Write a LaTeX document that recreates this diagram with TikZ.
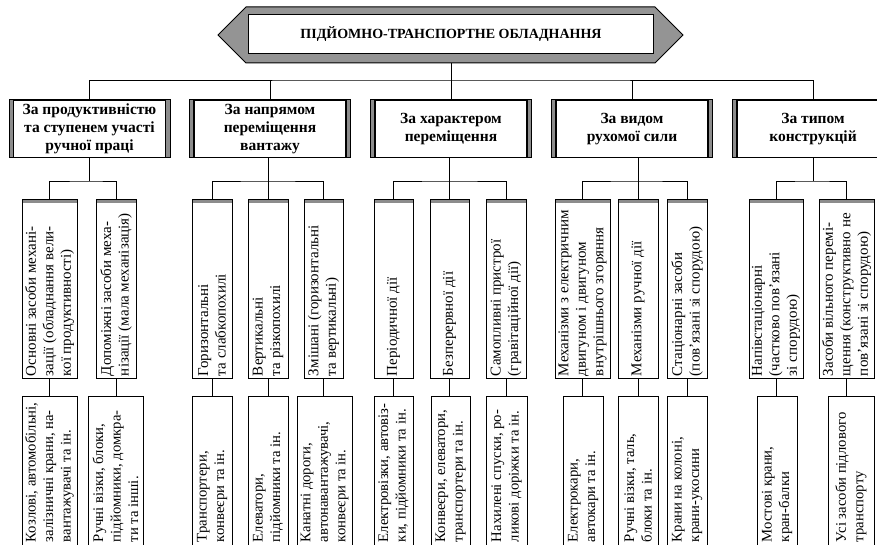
\documentclass[tikz,border=0pt]{standalone}
\usepackage{fontspec}
\setmainfont{Liberation Serif}
\definecolor{bandgray}{gray}{0.55}
\definecolor{hexgray}{gray}{0.58}
\begin{document}
\begin{tikzpicture}[x=1pt,y=-1pt,line width=0.8pt,
  catbox/.style={draw, line width=1pt, fill=bandgray, minimum width=161pt, minimum height=58pt,
    inner sep=0pt, align=center, font=\bfseries\fontsize{15.5}{18}\selectfont,
    path picture={\draw[fill=white, line width=1.4pt]
      ([xshift=4.5pt]path picture bounding box.south west) rectangle
      ([xshift=-4.5pt]path picture bounding box.north east);}},
  midbox/.style={draw, line width=0.8pt, inner sep=0pt, minimum height=179pt,
    path picture={\fill[bandgray] (path picture bounding box.north west) rectangle
      ([yshift=-4pt]path picture bounding box.north east);}},
  lowbox/.style={draw, line width=1pt, inner sep=0pt, minimum height=154pt},
  vtext/.style={rotate=90, anchor=west, align=left, inner sep=0pt,
    font=\fontsize{15}{17.5}\selectfont},
  ltext/.style={rotate=90, anchor=west, align=left, inner sep=0pt,
    font=\fontsize{14.7}{17.5}\selectfont}
]
\useasboundingbox (0,0) rectangle (877,545);
\clip (0,0) rectangle (877,545);
\fill[white] (0,0) rectangle (877,545);

% banner
\draw[line width=1pt, fill=hexgray] (218,35) -- (246,7) -- (655,7) -- (683,35) -- (655,63) -- (246,63) -- cycle;
\node[draw, line width=1.5pt, fill=white, minimum width=405pt, minimum height=39pt, inner sep=0pt,
  font=\bfseries\fontsize{14}{16}\selectfont] (top) at (451,34) {ПІДЙОМНО-ТРАНСПОРТНЕ ОБЛАДНАННЯ};
\coordinate (hexb) at (451,63);
\coordinate (bus) at (451,80);

% categories
\node[catbox] (c1) at (89.5,129) {За продуктивністю\\та ступенем участі\\ручної праці};
\node[catbox] (c2) at (270,129) {За напрямом\\переміщення\\вантажу};
\node[catbox] (c3) at (451,129) {За характером\\переміщення};
\node[catbox] (c4) at (632,129) {За видом\\рухомої сили};
\node[catbox] (c5) at (813,129) {За типом\\конструкцій};

\draw (hexb) -- (bus);
\draw (c1.north) |- (bus) -| (c5.north);
\draw (c2.north) -- (c2.north |- bus);
\draw (c3.north) -- (c3.north |- bus);
\draw (c4.north) -- (c4.north |- bus);

% middle boxes
\node[midbox, minimum width=55pt] (m11) at (49.5,288.5) {};
\node[midbox, minimum width=40pt] (m12) at (116,288.5) {};
\node[midbox, minimum width=40pt] (m21) at (212,288.5) {};
\node[midbox, minimum width=40pt] (m22) at (268,288.5) {};
\node[midbox, minimum width=39pt] (m23) at (323.5,288.5) {};
\node[midbox, minimum width=39pt] (m31) at (393.5,288.5) {};
\node[midbox, minimum width=39pt] (m32) at (449.5,288.5) {};
\node[midbox, minimum width=40pt] (m33) at (506,288.5) {};
\node[midbox, minimum width=55pt] (m41) at (582.5,288.5) {};
\node[midbox, minimum width=40pt] (m42) at (638,288.5) {};
\node[midbox, minimum width=40pt] (m43) at (687,288.5) {};
\node[midbox, minimum width=54pt] (m51) at (776,288.5) {};
\node[midbox, minimum width=55pt] (m52) at (846.5,288.5) {};

% lower boxes
\node[lowbox, minimum width=55pt] (l11) at (49.5,473) {};
\node[lowbox, minimum width=55pt] (l12) at (115.5,473) {};
\node[lowbox, minimum width=40pt] (l21) at (212,473) {};
\node[lowbox, minimum width=40pt] (l22) at (268,473) {};
\node[lowbox, minimum width=55pt] (l23) at (324.5,473) {};
\node[lowbox, minimum width=39pt] (l31) at (393.5,473) {};
\node[lowbox, minimum width=39pt] (l32) at (450.5,473) {};
\node[lowbox, minimum width=41pt] (l33) at (506.5,473) {};
\node[lowbox, minimum width=40pt] (l41) at (583,473) {};
\node[lowbox, minimum width=40pt] (l42) at (638,473) {};
\node[lowbox, minimum width=40pt] (l43) at (687,473) {};
\node[lowbox, minimum width=40pt] (l51) at (777,473) {};
\node[lowbox, minimum width=46pt] (l52) at (851,473) {};

% sub-buses
\coordinate (s1) at (89.5,181);
\coordinate (s2) at (268,181);
\coordinate (s3) at (449.5,181);
\coordinate (s4) at (638,181);
\coordinate (s5) at (813,181);
\draw (c1.south) -- (s1);
\draw (m11.north) |- (s1) -| (m12.north);
\draw (m21.north) |- (s2) -| (m23.north);
\draw (m22.north |- c2.south) -- (m22.north);
\draw (m31.north) |- (s3) -| (m33.north);
\draw (m32.north |- c3.south) -- (m32.north);
\draw (m41.north) |- (s4) -| (m43.north);
\draw (m42.north |- c4.south) -- (m42.north);
\draw (c5.south) -- (s5);
\draw (m51.north) |- (s5) -| (m52.north);

% middle to lower
\foreach \m/\l in {m11/l11,m12/l12,m21/l21,m22/l22,m23/l23,m31/l31,m32/l32,m33/l33,m41/l41,m42/l42,m43/l43,m51/l51,m52/l52}
  \draw (\m.south) -- (\m.south |- \l.north);

% middle texts
\node[vtext] (t11) at ([yshift=2pt]m11.south) {Основні засоби механі-\\зації (обладнання вели-\\кої продуктивності)};
\node[vtext] (t12) at ([yshift=2pt]m12.south) {Допоміжні засоби меха-\\нізації (мала механізація)};
\node[vtext] (t21) at ([yshift=2pt]m21.south) {Горизонтальні\\та слабкопохилі};
\node[vtext] (t22) at ([yshift=2pt]m22.south) {Вертикальні\\та різкопохилі};
\node[vtext] (t23) at ([yshift=2pt]m23.south) {Змішані (горизонтальні\\та вертикальні)};
\node[vtext] (t31) at ([yshift=2pt]m31.south) {Періодичної дії};
\node[vtext] (t32) at ([yshift=2pt]m32.south) {Безперервної дії};
\node[vtext] (t33) at ([yshift=2pt]m33.south) {Самопливні пристрої\\(гравітаційної дії)};
\node[vtext] (t41) at ([yshift=2pt]m41.south) {Механізми з електричним\\двигуном і двигуном\\внутрішнього згоряння};
\node[vtext] (t42) at ([yshift=2pt]m42.south) {Механізми ручної дії};
\node[vtext] (t43) at ([yshift=2pt]m43.south) {Стаціонарні засоби\\(пов’язані зі спорудою)};
\node[vtext] (t51) at ([yshift=2pt]m51.south) {Напівстаціонарні\\(частково пов’язані\\зі спорудою)};
\node[vtext] (t52) at ([yshift=2pt]m52.south) {Засоби вільного перемі-\\щення (конструктивно не\\пов’язані зі спорудою)};

% lower texts
\node[ltext] (u11) at ([yshift=8pt]l11.south) {Козлові, автомобільні,\\залізничні крани, на-\\вантажувачі та ін.};
\node[ltext] (u12) at ([yshift=8pt]l12.south) {Ручні візки, блоки,\\підйомники, домкра-\\ти та інші.};
\node[ltext] (u21) at ([yshift=8pt]l21.south) {Транспортери,\\конвеєри та ін.};
\node[ltext] (u22) at ([yshift=8pt]l22.south) {Елеватори,\\підйомники та ін.};
\node[ltext] (u23) at ([yshift=8pt]l23.south) {Канатні дороги,\\автонавантажувачі,\\конвеєри та ін.};
\node[ltext] (u31) at ([yshift=8pt]l31.south) {Електровізки, автовіз-\\ки, підйомники та ін.};
\node[ltext] (u32) at ([yshift=8pt]l32.south) {Конвеєри, елеватори,\\транспортери та ін.};
\node[ltext] (u33) at ([yshift=8pt]l33.south) {Нахилені спуски, ро-\\ликові доріжки та ін.};
\node[ltext] (u41) at ([yshift=8pt]l41.south) {Електрокари,\\автокари та ін.};
\node[ltext] (u42) at ([yshift=8pt]l42.south) {Ручні візки, таль,\\блоки та ін.};
\node[ltext] (u43) at ([yshift=8pt]l43.south) {Крани на колоні,\\крани-укосини};
\node[ltext] (u51) at ([yshift=8pt]l51.south) {Мостові крани,\\кран-балки};
\node[ltext] (u52) at ([yshift=8pt]l52.south) {Усі засоби підлового\\транспорту};
\end{tikzpicture}
\end{document}
